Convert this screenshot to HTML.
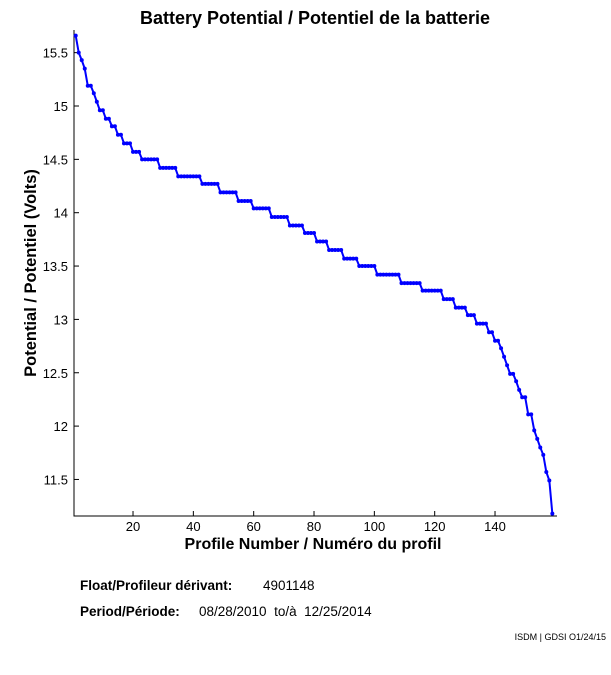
<!DOCTYPE html>
<html><head><meta charset="utf-8"><style>
body{margin:0;background:#fff;width:611px;height:675px;overflow:hidden;font-family:"Liberation Sans",Arial,sans-serif}
svg{display:block}
</style></head><body>
<svg id="chart" width="611" height="675" xmlns="http://www.w3.org/2000/svg" font-family="Liberation Sans, Arial, sans-serif">
<text x="315" y="24" text-anchor="middle" font-size="18" font-weight="bold">Battery Potential / Potentiel de la batterie</text>
<g id="plot"></g>
<text x="313" y="549" text-anchor="middle" font-size="16" font-weight="bold">Profile Number / Numéro du profil</text>
<text transform="translate(36,273) rotate(-90)" text-anchor="middle" font-size="16.5" font-weight="bold">Potential / Potentiel (Volts)</text>
<text x="80" y="590" font-size="13.5" font-weight="bold">Float/Profileur dérivant:</text>
<text x="263" y="590" font-size="13.5">4901148</text>
<text x="80" y="616" font-size="13.5" font-weight="bold">Period/Période:</text>
<text x="199" y="616" font-size="13.5" xml:space="preserve">08/28/2010  to/à  12/25/2014</text>
<text x="606" y="640" text-anchor="end" font-size="9">ISDM | GDSI O1/24/15</text>
</svg>
<script>
const xTicks=[20,40,60,80,100,120,140];
const yTicks=[11.5,12,12.5,13,13.5,14,14.5,15,15.5];
const yTickLabels=["11.5","12","12.5","13","13.5","14","14.5","15","15.5"];
const voltage=[15.66,15.50,15.43,15.35,15.19,15.19,15.12,15.04,14.96,14.96,
14.88,14.88,14.81,14.81,14.73,14.73,14.65,14.65,14.65,14.57,
14.57,14.57,14.50,14.50,14.50,14.50,14.50,14.50,14.42,14.42,
14.42,14.42,14.42,14.42,14.34,14.34,14.34,14.34,14.34,14.34,
14.34,14.34,14.27,14.27,14.27,14.27,14.27,14.27,14.19,14.19,
14.19,14.19,14.19,14.19,14.11,14.11,14.11,14.11,14.11,14.04,
14.04,14.04,14.04,14.04,14.04,13.96,13.96,13.96,13.96,13.96,
13.96,13.88,13.88,13.88,13.88,13.88,13.81,13.81,13.81,13.81,
13.73,13.73,13.73,13.73,13.65,13.65,13.65,13.65,13.65,13.57,
13.57,13.57,13.57,13.57,13.50,13.50,13.50,13.50,13.50,13.50,
13.42,13.42,13.42,13.42,13.42,13.42,13.42,13.42,13.34,13.34,
13.34,13.34,13.34,13.34,13.34,13.27,13.27,13.27,13.27,13.27,
13.27,13.27,13.19,13.19,13.19,13.19,13.11,13.11,13.11,13.11,
13.04,13.04,13.04,12.96,12.96,12.96,12.96,12.88,12.88,12.80,
12.80,12.73,12.65,12.57,12.49,12.49,12.42,12.34,12.27,12.27,
12.11,12.11,11.96,11.88,11.80,11.73,11.57,11.49,11.18];
const NS="http://www.w3.org/2000/svg";
const plot=document.getElementById('plot');
const X=p=>75.7+(p-1)*3.0167;
const Y=v=>106-(v-15)*106.7;
function mk(tag,attrs){const e=document.createElementNS(NS,tag);for(const k in attrs)e.setAttribute(k,attrs[k]);plot.appendChild(e);return e;}
const ax=mk('path',{d:'M74,30 V516 H557',stroke:'#000','stroke-width':1,fill:'none'});


xTicks.forEach(t=>{
 const tk=mk('line',{x1:X(t),x2:X(t),y1:516,y2:511,stroke:'#000'});
 
 
 const l=mk('text',{x:X(t),y:531,'text-anchor':'middle','font-size':13});
 l.textContent=t;
 
 
});
yTicks.forEach((t,i)=>{
 const tk=mk('line',{x1:74,x2:79,y1:Y(t),y2:Y(t),stroke:'#000'});
 
 
 const l=mk('text',{x:68,y:Y(t)+5,'text-anchor':'end','font-size':13});
 l.textContent=yTickLabels[i];
 
 
});
const pts=voltage.map((v,i)=>X(i+1).toFixed(2)+','+Y(v).toFixed(2)).join(' ');
const line=mk('polyline',{points:pts,fill:'none',stroke:'#0000ff','stroke-width':2});


voltage.forEach((v,i)=>{
 const c=mk('circle',{cx:X(i+1),cy:Y(v),r:2,fill:'#0000ff'});
 
 
});
</script>
</body></html>
